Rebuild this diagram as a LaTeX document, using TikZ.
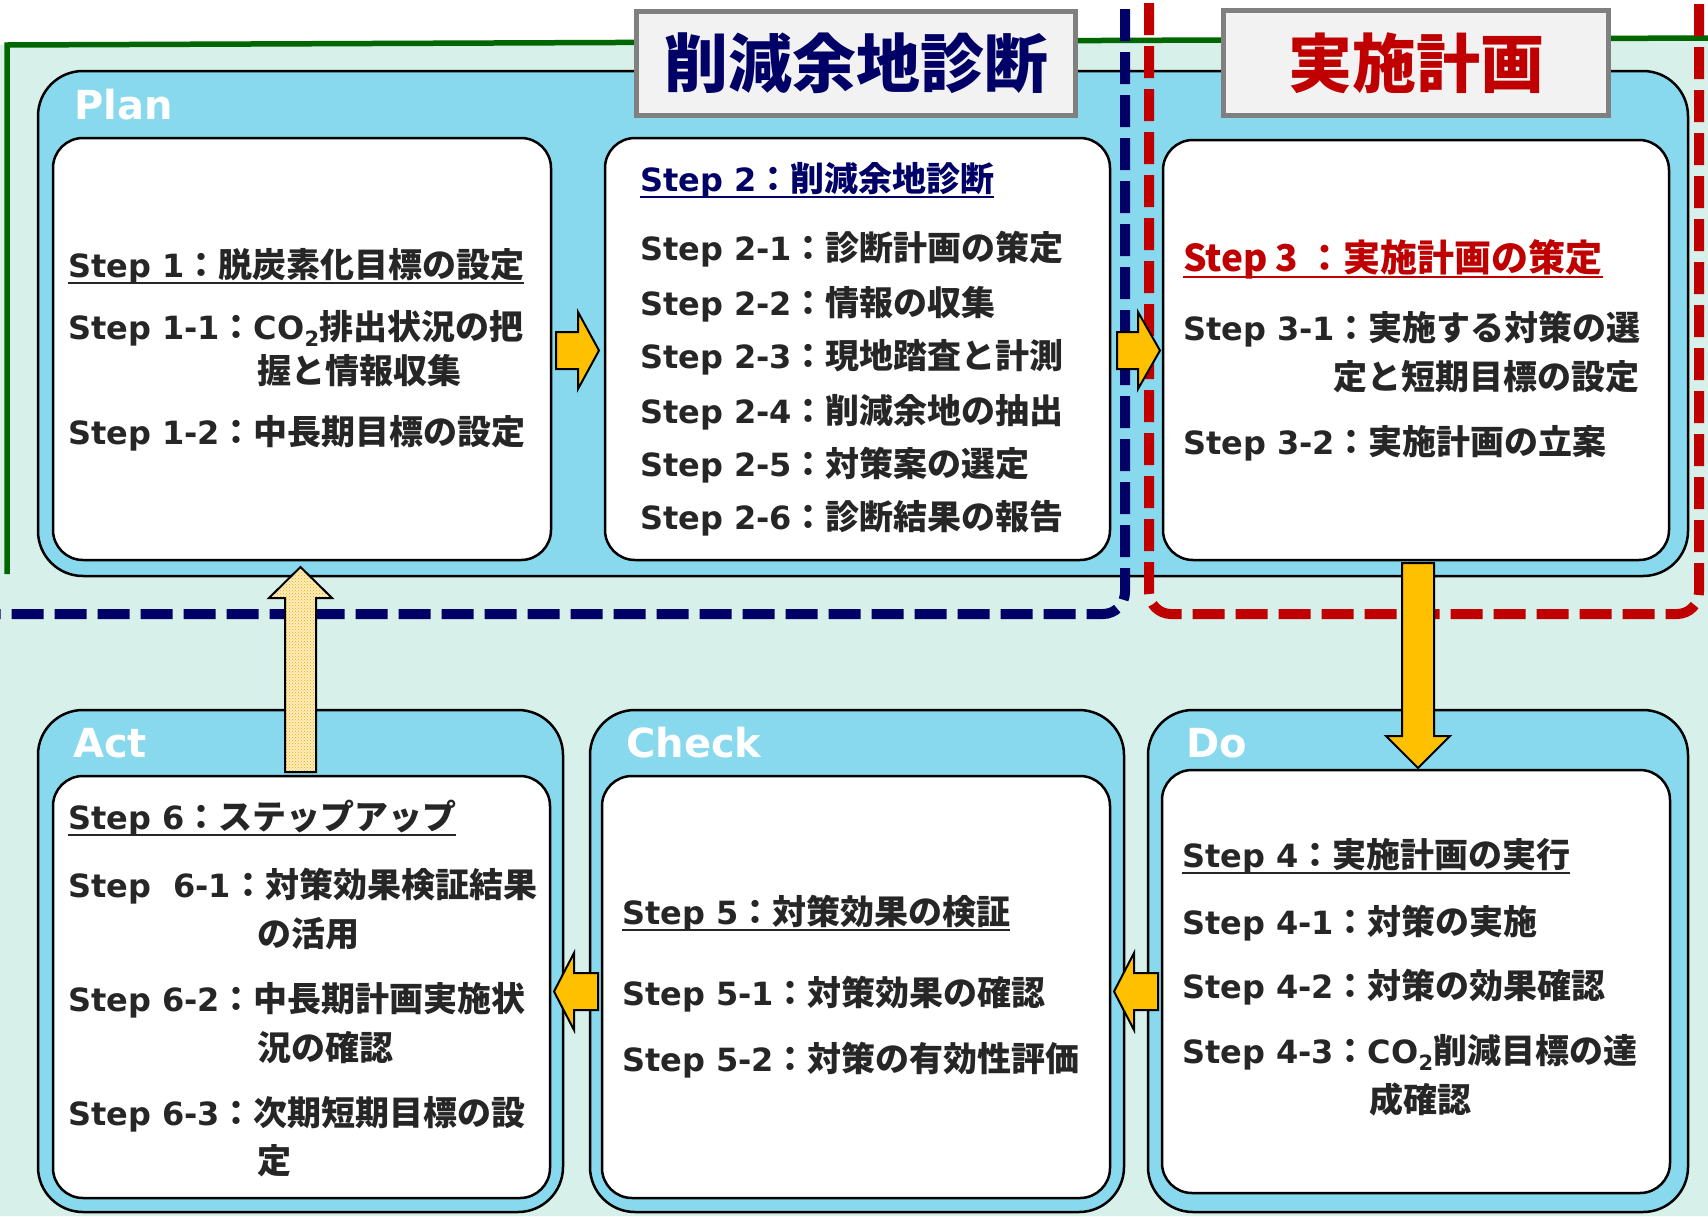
\documentclass[tikz,border=0pt]{standalone}
\usepackage{fontspec}
\usetikzlibrary{patterns}
\newfontfamily\latf{DejaVu Sans}
\newfontfamily\jpf{Noto Sans CJK JP}
\definecolor{mint}{RGB}{216,240,234}
\definecolor{skyb}{RGB}{137,217,238}
\definecolor{navyc}{RGB}{0,0,102}
\definecolor{redc}{RGB}{192,0,0}
\definecolor{greenc}{RGB}{0,102,0}
\definecolor{txtc}{RGB}{38,38,38}
\definecolor{arrowc}{RGB}{255,192,0}
\definecolor{paley}{RGB}{255,238,190}
\definecolor{doto}{RGB}{240,165,0}
\definecolor{titlefill}{RGB}{242,242,242}
\definecolor{titleline}{RGB}{128,128,128}
\newcommand\La{\latf\bfseries\fontsize{32}{38}\selectfont}
\newcommand\Ja{\jpf\bfseries\fontsize{34}{40}\selectfont}
\newcommand\stl[2]{{\La #1}{\Ja #2}}
\newcommand\jj[1]{{\Ja #1}}
\newcommand\subtwo{\raisebox{-0.22em}{\latf\bfseries\fontsize{21}{21}\selectfont 2}}
\newsavebox\ulbox
\newcommand\ulx[1]{\sbox\ulbox{#1}\rlap{\usebox\ulbox}\rule[-7pt]{\wd\ulbox}{2.5pt}}
\begin{document}
\begin{tikzpicture}[x=1pt,y=-1pt,
  outerbox/.style={draw=black, line width=2.5pt, fill=skyb, rounded corners=45pt, inner sep=0pt, outer sep=0pt},
  innerbox/.style={draw=black, line width=2.5pt, fill=white, rounded corners=30pt, inner sep=0pt, outer sep=0pt},
  titlebox/.style={draw=titleline, line width=5pt, fill=titlefill, inner sep=0pt, font=\jpf\bfseries\fontsize{64}{64}\selectfont},
  tl/.style={anchor=base west, inner sep=0pt, outer sep=0pt, text=txtc},
  lbl/.style={anchor=base west, inner sep=0pt, text=white, font=\latf\bfseries\fontsize{40}{40}\selectfont},
  blockarrow/.style={draw=black, line width=2pt, fill=arrowc, line join=miter},
  navydash/.style={draw=navyc, line width=10pt, dash pattern=on 32pt off 11pt, rounded corners=22pt},
  reddash/.style={draw=redc, line width=10pt, dash pattern=on 32pt off 11pt, rounded corners=22pt},
]
\useasboundingbox (0,0) rectangle (1708,1216);
\fill[white] (0,0) rectangle (1708,1216);
\fill[mint] (0,45) -- (1708,38) -- (1708,1216) -- (0,1216) -- cycle;
\draw[greenc, line width=5.5pt] (7,574) -- (7,45) -- (1708,38);

% outer boxes
\node[outerbox, minimum width=1650pt, minimum height=505pt] (plan) at (863,323.5) {};
\node[outerbox, minimum width=525pt, minimum height=502pt] (act) at (300.5,961) {};
\node[outerbox, minimum width=534pt, minimum height=502pt] (check) at (857,961) {};
\node[outerbox, minimum width=540pt, minimum height=502pt] (do) at (1418,961) {};

% inner boxes
\node[innerbox, minimum width=498pt, minimum height=422pt] (b1) at (302,349) {};
\node[innerbox, minimum width=505pt, minimum height=422pt] (b2) at (857.5,349) {};
\node[innerbox, minimum width=506pt, minimum height=420pt] (b3) at (1416,350) {};
\node[innerbox, minimum width=497pt, minimum height=422pt] (b6) at (301.5,987) {};
\node[innerbox, minimum width=508pt, minimum height=422pt] (b5) at (856,987) {};
\node[innerbox, minimum width=508pt, minimum height=423pt] (b4) at (1416,981.5) {};

% title boxes
\node[titlebox, minimum width=439pt, minimum height=104pt, text=navyc] (t1) at (856,63.5) {削減余地診断};
\node[titlebox, minimum width=385pt, minimum height=105pt, text=redc] (t2) at (1416,63) {実施計画};

% dashed frames
\draw[navydash] (1125,9) -- (1125,614) -- (-10,614);
\draw[reddash] (1149,3) -- (1149,614) -- (1699,614) -- (1699,-10);

% block arrows
\draw[blockarrow] (556,332) -- (578,332) -- (578,312) -- (599,350.5) -- (578,389) -- (578,369) -- (556,369) -- cycle;
\draw[blockarrow] (1117,332) -- (1138,332) -- (1138,312) -- (1160,350.5) -- (1138,389) -- (1138,369) -- (1117,369) -- cycle;
\draw[blockarrow] (1402,563) -- (1434,563) -- (1434,736) -- (1450,736) -- (1418,768) -- (1386,736) -- (1402,736) -- cycle;
\draw[blockarrow] (1158,973) -- (1134,973) -- (1134,953) -- (1114,991.5) -- (1134,1030) -- (1134,1010) -- (1158,1010) -- cycle;
\draw[blockarrow] (598,973) -- (574,973) -- (574,953) -- (554,991.5) -- (574,1030) -- (574,1010) -- (598,1010) -- cycle;
\draw[draw=black, line width=2pt, line join=miter, preaction={fill=paley}, pattern=crosshatch dots, pattern color=doto]
  (285,772) -- (285,598) -- (269,598) -- (300.5,567) -- (332,598) -- (316,598) -- (316,772) -- cycle;

% labels
\node[lbl] (lplan) at (74,119) {Plan};
\node[lbl] (lact) at (73,757) {Act};
\node[lbl] (lcheck) at (626,757) {Check};
\node[lbl] (ldo) at (1186,757) {Do};

% box 1
\node[tl] (s1h) at (68,277) {\ulx{\stl{Step 1}{：脱炭素化目標の設定}}};
\node[tl] (s11) at (68,339) {{\La Step 1-1}\jj{：}{\La CO\subtwo}\jj{排出状況の把}};
\node[tl] (s11b) at (257,383) {\jj{握と情報収集}};
\node[tl] (s12) at (68,444) {\stl{Step 1-2}{：中長期目標の設定}};

% box 2
\node[tl, text=navyc] (s2h) at (640,191) {\ulx{\stl{Step 2}{：削減余地診断}}};
\node[tl] (s21) at (640,260) {\stl{Step 2-1}{：診断計画の策定}};
\node[tl] (s22) at (640,315) {\stl{Step 2-2}{：情報の収集}};
\node[tl] (s23) at (640,368) {\stl{Step 2-3}{：現地踏査と計測}};
\node[tl] (s24) at (640,423) {\stl{Step 2-4}{：削減余地の抽出}};
\node[tl] (s25) at (640,476) {\stl{Step 2-5}{：対策案の選定}};
\node[tl] (s26) at (640,529) {\stl{Step 2-6}{：診断結果の報告}};

% box 3
\node[tl, text=redc] (s3h) at (1183,271) {\ulx{\jpf\bfseries\fontsize{37}{40}\selectfont Step 3 ：実施計画の策定}};
\node[tl] (s31) at (1183,340) {\stl{Step 3-1}{：実施する対策の選}};
\node[tl] (s31b) at (1333,389) {\jj{定と短期目標の設定}};
\node[tl] (s32) at (1183,454) {\stl{Step 3-2}{：実施計画の立案}};

% Act box
\node[tl] (s6h) at (68,829) {\ulx{\stl{Step 6}{：ステップアップ}}};
\node[tl] (s61) at (68,897) {\stl{Step\ \ 6-1}{：対策効果検証結果}};
\node[tl] (s61b) at (257,946) {\jj{の活用}};
\node[tl] (s62) at (68,1011) {\stl{Step 6-2}{：中長期計画実施状}};
\node[tl] (s62b) at (257,1060) {\jj{況の確認}};
\node[tl] (s63) at (68,1125) {\stl{Step 6-3}{：次期短期目標の設}};
\node[tl] (s63b) at (257,1173) {\jj{定}};

% Check box
\node[tl] (s5h) at (622,924) {\ulx{\stl{Step 5}{：対策効果の検証}}};
\node[tl] (s51) at (622,1005) {\stl{Step 5-1}{：対策効果の確認}};
\node[tl] (s52) at (622,1071) {\stl{Step 5-2}{：対策の有効性評価}};

% Do box
\node[tl] (s4h) at (1182,867) {\ulx{\stl{Step 4}{：実施計画の実行}}};
\node[tl] (s41) at (1182,934) {\stl{Step 4-1}{：対策の実施}};
\node[tl] (s42) at (1182,998) {\stl{Step 4-2}{：対策の効果確認}};
\node[tl] (s43) at (1182,1063) {{\La Step 4-3}\jj{：}{\La CO\subtwo}\jj{削減目標の達}};
\node[tl] (s43b) at (1369,1112) {\jj{成確認}};
\end{tikzpicture}
\end{document}
